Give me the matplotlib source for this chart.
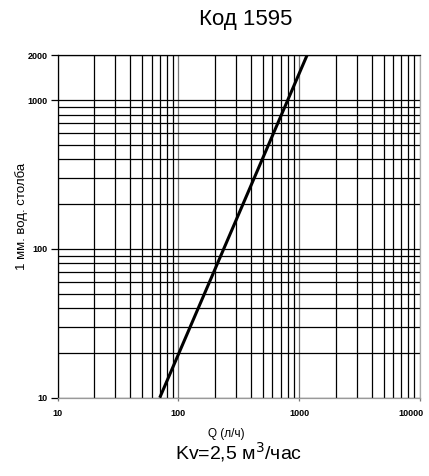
import numpy as np
import matplotlib
matplotlib.use("Agg")
import matplotlib.pyplot as plt
from matplotlib.ticker import FixedLocator, NullFormatter
from matplotlib.transforms import ScaledTranslation

plt.rcParams['font.family'] = ['Liberation Sans', 'DejaVu Sans']

## Data
q_flow = [70, 237, 1160]          # Q, l/h
dp_mm = [10, 100, 2000]           # pressure loss, mm water column

x_major = [10, 100, 1000, 10000]
x_minor = [20, 30, 40, 50, 60, 70, 80, 90,
           200, 300, 400, 500, 600, 700, 800, 900,
           2000, 3000, 4000, 5000, 6000, 7000, 8000, 9000]
y_major = [10, 100, 1000, 2000]
y_minor = [20, 30, 40, 50, 60, 70, 80, 90,
           200, 300, 400, 500, 600, 700, 800, 900]

title = "Код 1595"
xlabel = "Q (л/ч)"
ylabel = "1 мм. вод. столба"
footer = "Kv=2,5 м$^3$/час"

fig = plt.figure(figsize=(4.29, 4.76), dpi=100)
ax = fig.add_axes([0.1345, 0.1645, 0.979 - 0.1345, 0.8838 - 0.1645])

ax.set_xscale('log')
ax.set_yscale('log')
ax.set_xlim(10, 10000)
ax.set_ylim(10, 2000)

ax.xaxis.set_major_locator(FixedLocator(x_major))
ax.xaxis.set_minor_locator(FixedLocator(x_minor))
ax.yaxis.set_major_locator(FixedLocator(y_major))
ax.yaxis.set_minor_locator(FixedLocator(y_minor))
ax.set_xticklabels([str(v) for v in x_major])
ax.set_yticklabels([str(v) for v in y_major])
ax.xaxis.set_minor_formatter(NullFormatter())
ax.yaxis.set_minor_formatter(NullFormatter())

# grid: black everywhere except the major vertical lines
ax.grid(which='minor', color='black', lw=0.9)
ax.yaxis.grid(which='major', color='black', lw=0.9)
ax.xaxis.grid(which='major', color='#777777', lw=0.9)

ax.tick_params(axis='y', which='major', length=5, width=0.9, color='black', pad=2)
ax.tick_params(axis='x', which='major', length=2, width=0.9, color='#777777', pad=6)
ax.tick_params(which='minor', length=0)
for lab in ax.get_xticklabels() + ax.get_yticklabels():
    lab.set_fontsize(6.5)
    lab.set_fontweight('bold')

# last x label sits against the right edge, pull it in so it stays on the page
last = ax.get_xticklabels()[-1]
last.set_transform(last.get_transform() + ScaledTranslation(-9 / 100, 0, fig.dpi_scale_trans))

ax.spines['left'].set_color('black')
ax.spines['top'].set_color('black')
ax.spines['bottom'].set_color('#999999')
ax.spines['right'].set_color('#aaaaaa')
for s in ax.spines.values():
    s.set_linewidth(0.9)

ax.plot(q_flow, dp_mm, color='black', lw=2.2, solid_capstyle='butt', zorder=3)

fig.text(246 / 429, 1 - 19 / 476, title, ha='center', va='center', fontsize=16)
fig.text(226 / 429, 1 - 434 / 476, xlabel, ha='center', va='center', fontsize=8.5)
fig.text(22 / 429, 1 - 216 / 476, ylabel, ha='center', va='center', fontsize=9.5,
         rotation=90)
fig.text(239 / 429, 1 - 452 / 476, footer, ha='center', va='center', fontsize=14)

fig.savefig("out.png", dpi=100)
